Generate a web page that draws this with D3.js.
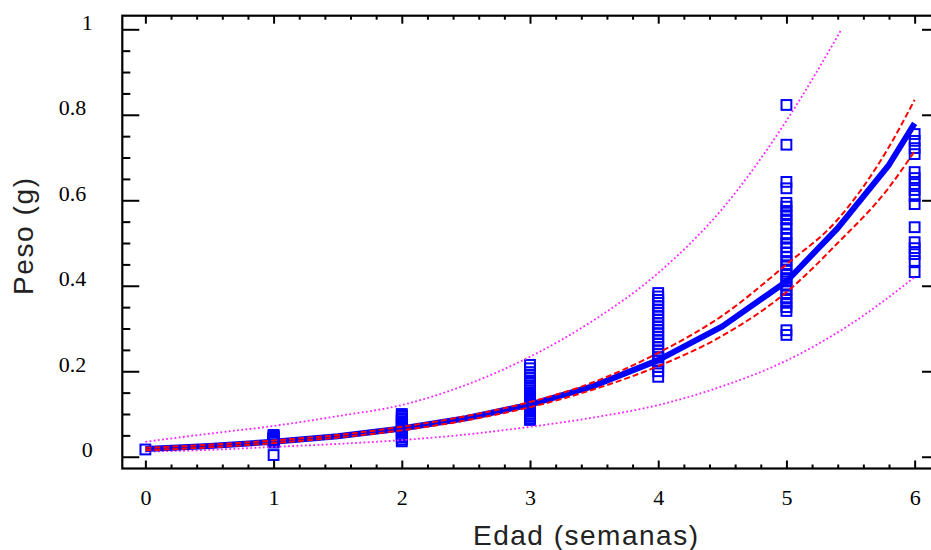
<!DOCTYPE html>
<html>
<head>
<meta charset="utf-8">
<script src="https://cdn.jsdelivr.net/npm/d3@7"></script>
<style>
  html, body { margin: 0; padding: 0; background: #fff; }
  svg { display: block; }
</style>
</head>
<body>
<svg id="chart" width="931" height="550"></svg>
<script>
// ---- data ----
const xLabel = "Edad (semanas)";
const yLabel = "Peso (g)";
const xTickValues = [0, 1, 2, 3, 4, 5, 6];
const yTickValues = [0, 0.2, 0.4, 0.6, 0.8, 1];
const yTickLabels = ["0", "0.2", "0.4", "0.6", "0.8", "1"];

const obsWeeks = [0, 1, 2, 3, 4, 5, 6];
const obsWeights = [
  [0.017],
  [0.051, 0.049, 0.047, 0.045, 0.043, 0.041, 0.039, 0.037, 0.035, 0.033, 0.004],
  [0.1, 0.097, 0.094, 0.09, 0.087, 0.083, 0.08, 0.076, 0.072, 0.068, 0.064, 0.06, 0.056, 0.052, 0.048, 0.045, 0.04, 0.036],
  [0.215, 0.207, 0.198, 0.19, 0.184, 0.178, 0.172, 0.166, 0.16, 0.155, 0.15, 0.145, 0.14, 0.135, 0.13, 0.125, 0.12, 0.115, 0.11, 0.105, 0.1, 0.095, 0.09, 0.086],
  [0.383, 0.375, 0.367, 0.36, 0.352, 0.344, 0.336, 0.328, 0.32, 0.312, 0.304, 0.296, 0.288, 0.28, 0.272, 0.264, 0.256, 0.248, 0.24, 0.232, 0.225, 0.218, 0.21, 0.2, 0.187],
  [0.823, 0.73, 0.643, 0.628, 0.594, 0.585, 0.575, 0.565, 0.555, 0.545, 0.535, 0.52, 0.51, 0.5, 0.49, 0.478, 0.468, 0.458, 0.448, 0.438, 0.428, 0.418, 0.41, 0.4, 0.39, 0.38, 0.37, 0.36, 0.35, 0.341, 0.296, 0.285],
  [0.755, 0.739, 0.722, 0.708, 0.666, 0.652, 0.638, 0.624, 0.61, 0.591, 0.537, 0.502, 0.488, 0.474, 0.458, 0.432]
];

const fitX      = [0, 0.5, 1, 1.5, 2, 2.5, 3, 3.5, 4, 4.5, 5, 5.4, 5.8, 6];
const fitY      = [0.018, 0.025, 0.035, 0.048, 0.066, 0.09, 0.122, 0.166, 0.226, 0.305, 0.41, 0.535, 0.683, 0.78];
const ciUpperY  = [0.021, 0.028, 0.038, 0.051, 0.07, 0.095, 0.128, 0.175, 0.243, 0.33, 0.45, 0.555, 0.725, 0.835];
const ciLowerY  = [0.015, 0.022, 0.032, 0.045, 0.062, 0.085, 0.116, 0.158, 0.212, 0.283, 0.385, 0.5, 0.63, 0.715];

const piUpperX  = [0, 0.5, 1, 1.5, 2, 2.5, 3, 3.5, 4, 4.5, 5, 5.43];
const piUpperY  = [0.035, 0.054, 0.072, 0.095, 0.121, 0.168, 0.234, 0.32, 0.43, 0.58, 0.786, 1.0];
const piLowerX  = [0, 0.5, 1, 1.5, 2, 2.5, 3, 3.5, 4, 4.5, 5, 5.5, 6];
const piLowerY  = [0.012, 0.016, 0.023, 0.03, 0.039, 0.052, 0.07, 0.092, 0.121, 0.165, 0.225, 0.31, 0.42];

// ---- layout ----
const svg = d3.select("#chart");
const x = d3.scaleLinear().domain([-0.18, 6.19]).range([122.3, 939]);
const y = d3.scaleLinear().domain([-0.0275, 1.0318]).range([468.5, 15.7]);
const [x0, x1] = x.range();
const [yb, yt] = y.range();

const zip = (xs, ys) => xs.map((v, i) => [v, ys[i]]);
const line = d3.line().x(d => x(d[0])).y(d => y(d[1]));
const smooth = d3.line().x(d => x(d[0])).y(d => y(d[1])).curve(d3.curveMonotoneX);

// ---- scatter ----
const pts = [];
obsWeeks.forEach((w, i) => obsWeights[i].forEach(v => pts.push([w, v])));
const sq = 9.8;
svg.append("g").selectAll("rect").data(pts).join("rect")
  .attr("x", d => x(d[0]) - sq / 2)
  .attr("y", d => y(d[1]) - sq / 2)
  .attr("width", sq).attr("height", sq)
  .attr("fill", "none")
  .attr("stroke", "#0000ff")
  .attr("stroke-width", 2);

// ---- prediction bands (magenta dotted) ----
[zip(piUpperX, piUpperY), zip(piLowerX, piLowerY)].forEach(dat => {
  svg.append("path").datum(dat).attr("d", smooth)
    .attr("fill", "none").attr("stroke", "#ff22ff")
    .attr("stroke-width", 1.8).attr("stroke-dasharray", "1.8,2.4");
});

// ---- fit line (blue thick) ----
svg.append("path").datum(zip(fitX, fitY)).attr("d", line)
  .attr("fill", "none").attr("stroke", "#0000ff")
  .attr("stroke-width", 6).attr("stroke-linejoin", "round");

// ---- confidence bands (red dashed) ----
[zip(fitX, ciUpperY), zip(fitX, ciLowerY)].forEach(dat => {
  svg.append("path").datum(dat).attr("d", smooth)
    .attr("fill", "none").attr("stroke", "#ff0000")
    .attr("stroke-width", 2).attr("stroke-dasharray", "6,3");
});

// ---- axes ----
const xMinor = d3.range(0, 6.19, 0.2).filter(v => Math.abs(v - Math.round(v)) > 1e-6);
const yMinor = d3.range(0, 1.0001, 0.05).filter(v => Math.abs(v * 5 - Math.round(v * 5)) > 1e-6);

function styleAxis(g) {
  g.select(".domain").remove();
  g.selectAll(".tick line").attr("stroke", "#000").attr("stroke-width", 2);
}

// bottom
svg.append("g").attr("transform", `translate(0,${yb})`)
  .call(d3.axisBottom(x).tickValues(xTickValues).tickSize(-8).tickPadding(28).tickFormat(d3.format("d")))
  .call(styleAxis)
  .call(g => g.selectAll("text").attr("font-family", "'Liberation Serif', 'Times New Roman', serif")
      .attr("font-size", 22).attr("fill", "#000").attr("dy", 0).attr("y", 36.5));
svg.append("g").attr("transform", `translate(0,${yb})`)
  .call(d3.axisBottom(x).tickValues(xMinor).tickSize(-4).tickFormat(""))
  .call(styleAxis);
// top
svg.append("g").attr("transform", `translate(0,${yt})`)
  .call(d3.axisTop(x).tickValues(xTickValues).tickSize(-8).tickFormat(""))
  .call(styleAxis);
svg.append("g").attr("transform", `translate(0,${yt})`)
  .call(d3.axisTop(x).tickValues(xMinor).tickSize(-4).tickFormat(""))
  .call(styleAxis);
// left
svg.append("g").attr("transform", `translate(${x0},0)`)
  .call(d3.axisLeft(y).tickValues(yTickValues).tickSize(-17)
        .tickFormat((d, i) => yTickLabels[i]))
  .call(styleAxis)
  .call(g => g.selectAll("text")
      .attr("font-family", "'Liberation Serif', 'Times New Roman', serif")
      .attr("font-size", 22).attr("fill", "#000").attr("dy", 0)
      .attr("text-anchor", "end")
      .attr("x", (d, i) => yTickLabels[i].includes(".") ? -36 : -29.5));
svg.append("g").attr("transform", `translate(${x0},0)`)
  .call(d3.axisLeft(y).tickValues(yMinor).tickSize(-8).tickFormat(""))
  .call(styleAxis);
// right
svg.append("g").attr("transform", `translate(${x1},0)`)
  .call(d3.axisRight(y).tickValues(yTickValues).tickSize(-17).tickFormat(""))
  .call(styleAxis);
svg.append("g").attr("transform", `translate(${x1},0)`)
  .call(d3.axisRight(y).tickValues(yMinor).tickSize(-8).tickFormat(""))
  .call(styleAxis);

// frame
svg.append("rect").attr("x", x0).attr("y", yt).attr("width", x1 - x0).attr("height", yb - yt)
  .attr("fill", "none").attr("stroke", "#000").attr("stroke-width", 2.2);

// ---- axis titles ----
svg.append("text").text(xLabel)
  .attr("x", 585.5).attr("y", 545)
  .attr("text-anchor", "middle")
  .attr("font-family", "'Liberation Sans', Arial, sans-serif")
  .attr("font-size", 28).attr("fill", "#222")
  .attr("textLength", 225).attr("lengthAdjust", "spacing");

svg.append("text").text(yLabel)
  .attr("transform", "translate(33,236.5) rotate(-90)")
  .attr("text-anchor", "middle")
  .attr("font-family", "'Liberation Sans', Arial, sans-serif")
  .attr("font-size", 28).attr("fill", "#222")
  .attr("textLength", 117).attr("lengthAdjust", "spacing");
</script>
</body>
</html>
